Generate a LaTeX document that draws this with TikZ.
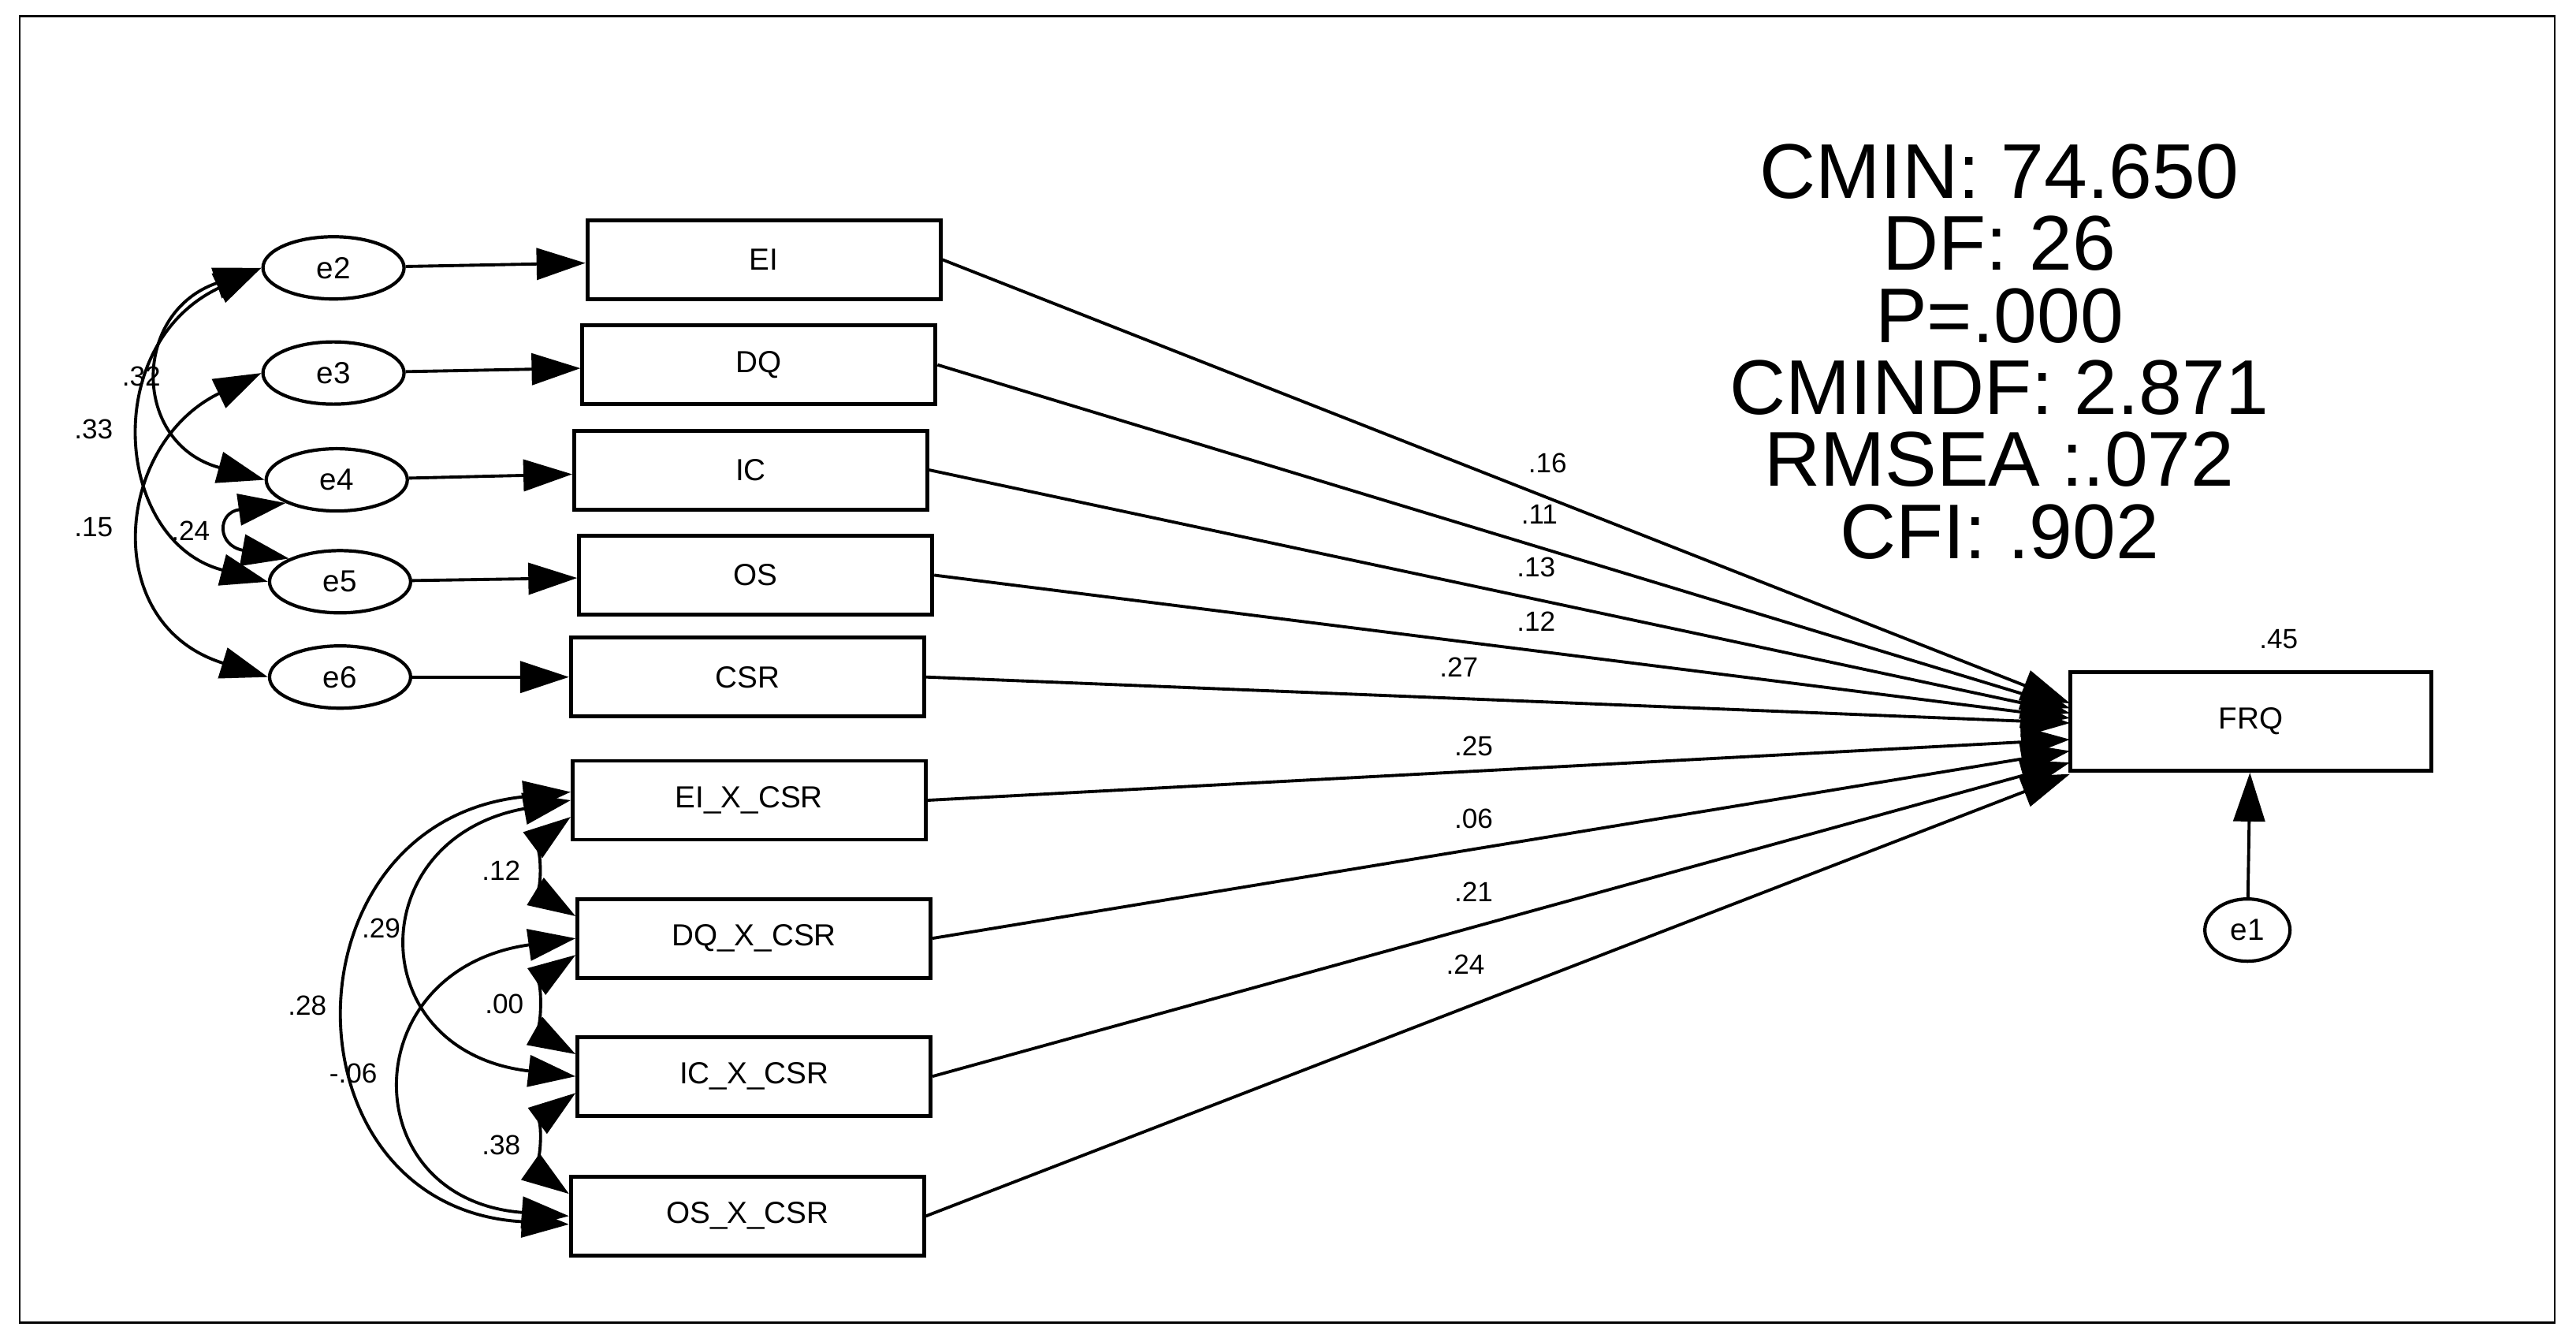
\documentclass[tikz,border=0pt]{standalone}
\usepackage{fontspec}
\setmainfont{Liberation Sans}
\usetikzlibrary{arrows.meta,shapes.geometric}
\begin{document}
\begin{tikzpicture}[x=0.02084cm,y=-0.02084cm,line width=1.1pt,
    obs/.style={draw,line width=1.4pt,minimum width=4.48cm,minimum height=1cm,font=\fontsize{11}{13}\selectfont},
    err/.style={draw,ellipse,line width=1.2pt,minimum width=1.79cm,minimum height=0.79cm,inner sep=0pt,font=\fontsize{11}{13}\selectfont},
    lab/.style={font=\fontsize{10}{12}\selectfont,inner sep=1pt},
    path/.style={-{Triangle[length=0.62cm,width=0.4cm]}},
    cov/.style={{Triangle[length=0.6cm,width=0.4cm]}-{Triangle[length=0.6cm,width=0.4cm]}}]
    \useasboundingbox (0,0) rectangle (1568,814);
    \draw[line width=0.8pt] (12,10) rectangle (1555,805);
    % observed variables
    \node[obs] (EI) at (465,158) {EI};
    \node[obs] (DQ) at (462,222) {DQ};
    \node[obs] (IC) at (457,286) {IC};
    \node[obs] (OS) at (460,350) {OS};
    \node[obs] (CSR) at (455,412) {CSR};
    \node[obs] (EIX) at (456,487) {EI\_X\_CSR};
    \node[obs] (DQX) at (459,571) {DQ\_X\_CSR};
    \node[obs] (ICX) at (459,655) {IC\_X\_CSR};
    \node[obs] (OSX) at (455,740) {OS\_X\_CSR};
    \node[obs,minimum width=4.58cm,minimum height=1.25cm] (FRQ) at (1370,439) {FRQ};
    % errors
    \node[err] (e2) at (203,163) {e2};
    \node[err] (e3) at (203,227) {e3};
    \node[err] (e4) at (205,292) {e4};
    \node[err] (e5) at (207,354) {e5};
    \node[err] (e6) at (207,412) {e6};
    \node[err,minimum width=1.08cm] (e1) at (1368,566) {e1};
    \draw[path] (e2) -- (EI);
    \draw[path] (e3) -- (DQ);
    \draw[path] (e4) -- (IC);
    \draw[path] (e5) -- (OS);
    \draw[path] (e6) -- (CSR);
    \draw[path] (e1) -- (FRQ);
    % paths to FRQ
    \coordinate (t1) at (1260,428);
    \coordinate (t2) at (1260,431);
    \coordinate (t3) at (1260,434);
    \coordinate (t4) at (1260,437);
    \coordinate (t5) at (1260,440);
    \coordinate (t6) at (1260,450);
    \coordinate (t7) at (1260,457);
    \coordinate (t8) at (1260,464);
    \coordinate (t9) at (1260,471);
    \draw[path] (EI.east) -- (t1);
    \draw[path] (DQ.east) -- (t2);
    \draw[path] (IC.east) -- (t3);
    \draw[path] (OS.east) -- (t4);
    \draw[path] (CSR.east) -- (t5);
    \draw[path] (EIX.east) -- (t6);
    \draw[path] (DQX.east) -- (t7);
    \draw[path] (ICX.east) -- (t8);
    \draw[path] (OSX.east) -- (t9);
    \node[lab] (p1) at (942,282) {.16};
    \node[lab] (p2) at (937,313) {.11};
    \node[lab] (p3) at (935,345) {.13};
    \node[lab] (p4) at (935,378) {.12};
    \node[lab] (p5) at (888,406) {.27};
    \node[lab] (p6) at (897,454) {.25};
    \node[lab] (p7) at (897,498) {.06};
    \node[lab] (p8) at (897,543) {.21};
    \node[lab] (p9) at (892,587) {.24};
    \node[lab] (r2) at (1387,389) {.45};
    % covariances of errors
    \draw[cov] (e2.west) .. controls (80,190) and (80,270) .. (e4.west);
    \draw[cov] (e2.west) .. controls (60,210) and (70,330) .. (e5.west);
    \draw[cov] (e3.west) .. controls (70,270) and (60,380) .. (e6.west);
    \draw[cov] (e4.south west) .. controls (132,312) and (132,332) .. (e5.north west);
    \node[lab] (c1) at (86,229) {.32};
    \node[lab] (c2) at (57,261) {.33};
    \node[lab] (c3) at (57,321) {.15};
    \node[lab] (c4) at (116,323) {.24};
    % covariances of interactions
    \draw[cov] ([yshift=-6pt]EIX.west) .. controls (330,510) and (330,545) .. ([yshift=8pt]DQX.west);
    \draw[cov] ([yshift=-6pt]DQX.west) .. controls (330,595) and (330,630) .. ([yshift=8pt]ICX.west);
    \draw[cov] ([yshift=-6pt]ICX.west) .. controls (330,680) and (330,715) .. ([yshift=8pt]OSX.west);
    \draw[cov] (EIX.west) .. controls (220,510) and (220,640) .. (ICX.west);
    \draw[cov] (DQX.west) .. controls (215,590) and (215,730) .. (OSX.west);
    \draw[cov] ([yshift=3pt]EIX.west) .. controls (170,500) and (170,735) .. ([yshift=-3pt]OSX.west);
    \node[lab] (d1) at (305,530) {.12};
    \node[lab] (d2) at (307,611) {.00};
    \node[lab] (d3) at (305,697) {.38};
    \node[lab] (d4) at (232,565) {.29};
    \node[lab] (d5) at (187,612) {.28};
    \node[lab] (d6) at (215,653) {-.06};
    % fit
    \node[align=center,font=\fontsize{28}{26}\selectfont] (fit) at (1217,214)
        {CMIN: 74.650\\DF: 26\\P=.000\\CMINDF: 2.871\\RMSEA :.072\\CFI: .902};
\end{tikzpicture}
\end{document}
